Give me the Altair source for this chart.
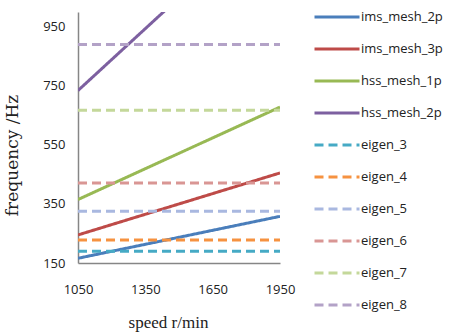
import altair as alt
import pandas as pd

series = ["ims_mesh_2p", "ims_mesh_3p", "hss_mesh_1p", "hss_mesh_2p",
          "eigen_3", "eigen_4", "eigen_5", "eigen_6", "eigen_7", "eigen_8"]
colors = ["#4A7EBB", "#BE4B48", "#98B954", "#7D60A0",
          "#46AAC5", "#F69240", "#A9B8E0", "#D99694", "#C4D89A", "#B3A2C7"]
dashes = [[1, 0]] * 4 + [[9, 5]] * 6

speeds = [1050, 1950]
start_vals = [166, 245, 365, 734, 190, 228, 325, 421, 667, 890]
end_vals = [308, 455, 678, 1363, 190, 228, 325, 421, 667, 890]

rows = []
for s, a, b in zip(series, start_vals, end_vals):
    rows.append({"series": s, "speed": speeds[0], "freq": a})
    rows.append({"series": s, "speed": speeds[1], "freq": b})
df = pd.DataFrame(rows)

chart = alt.Chart(df).mark_line(strokeWidth=3, clip=True).encode(
    x=alt.X("speed:Q", scale=alt.Scale(domain=[1050, 1950], nice=False, zero=False),
            axis=alt.Axis(values=[1050, 1350, 1650, 1950], format="d", title="speed r/min",
                          grid=False, ticks=False, labelPadding=20, labelFlush=False,
                          labelFont="Open Sans", labelFontSize=13, labelColor="#222",
                          titleFont="Liberation Serif", titleFontSize=17,
                          titleFontWeight="normal", titleColor="#222",
                          titleX=90, titleY=51,
                          domainColor="#868686", domainWidth=1.5)),
    y=alt.Y("freq:Q", scale=alt.Scale(domain=[150, 1000], nice=False, zero=False),
            axis=alt.Axis(values=[150, 350, 550, 750, 950], title="frequency /Hz",
                          grid=False, ticks=False, labelPadding=13,
                          labelFont="Open Sans", labelFontSize=13, labelColor="#222",
                          titleFont="DejaVu Serif", titleFontSize=17,
                          titleFontWeight="normal", titleColor="#222",
                          titleX=-57, titleY=143,
                          domainColor="#868686", domainWidth=1.5)),
    color=alt.Color("series:N", scale=alt.Scale(domain=series, range=colors),
                    sort=series,
                    legend=alt.Legend(title=None, orient="none", legendX=235, legendY=-11,
                                      symbolType="stroke", symbolSize=2025,
                                      symbolStrokeWidth=3, labelFont="Open Sans",
                                      labelFontSize=13, labelColor="#222",
                                      labelOffset=0, rowPadding=0, clipHeight=32,
                                      labelLimit=200)),
    strokeDash=alt.StrokeDash("series:N", scale=alt.Scale(domain=series, range=dashes),
                              sort=series, legend=None),
    detail="series:N",
).properties(
    width=202, height=251,
    autosize=alt.AutoSizeParams(type="none"),
    padding={"left": 78, "top": 12, "right": 169, "bottom": 70},
).configure_view(stroke=None)

chart.save("out.html", embed_options={"renderer": "svg", "actions": False})
